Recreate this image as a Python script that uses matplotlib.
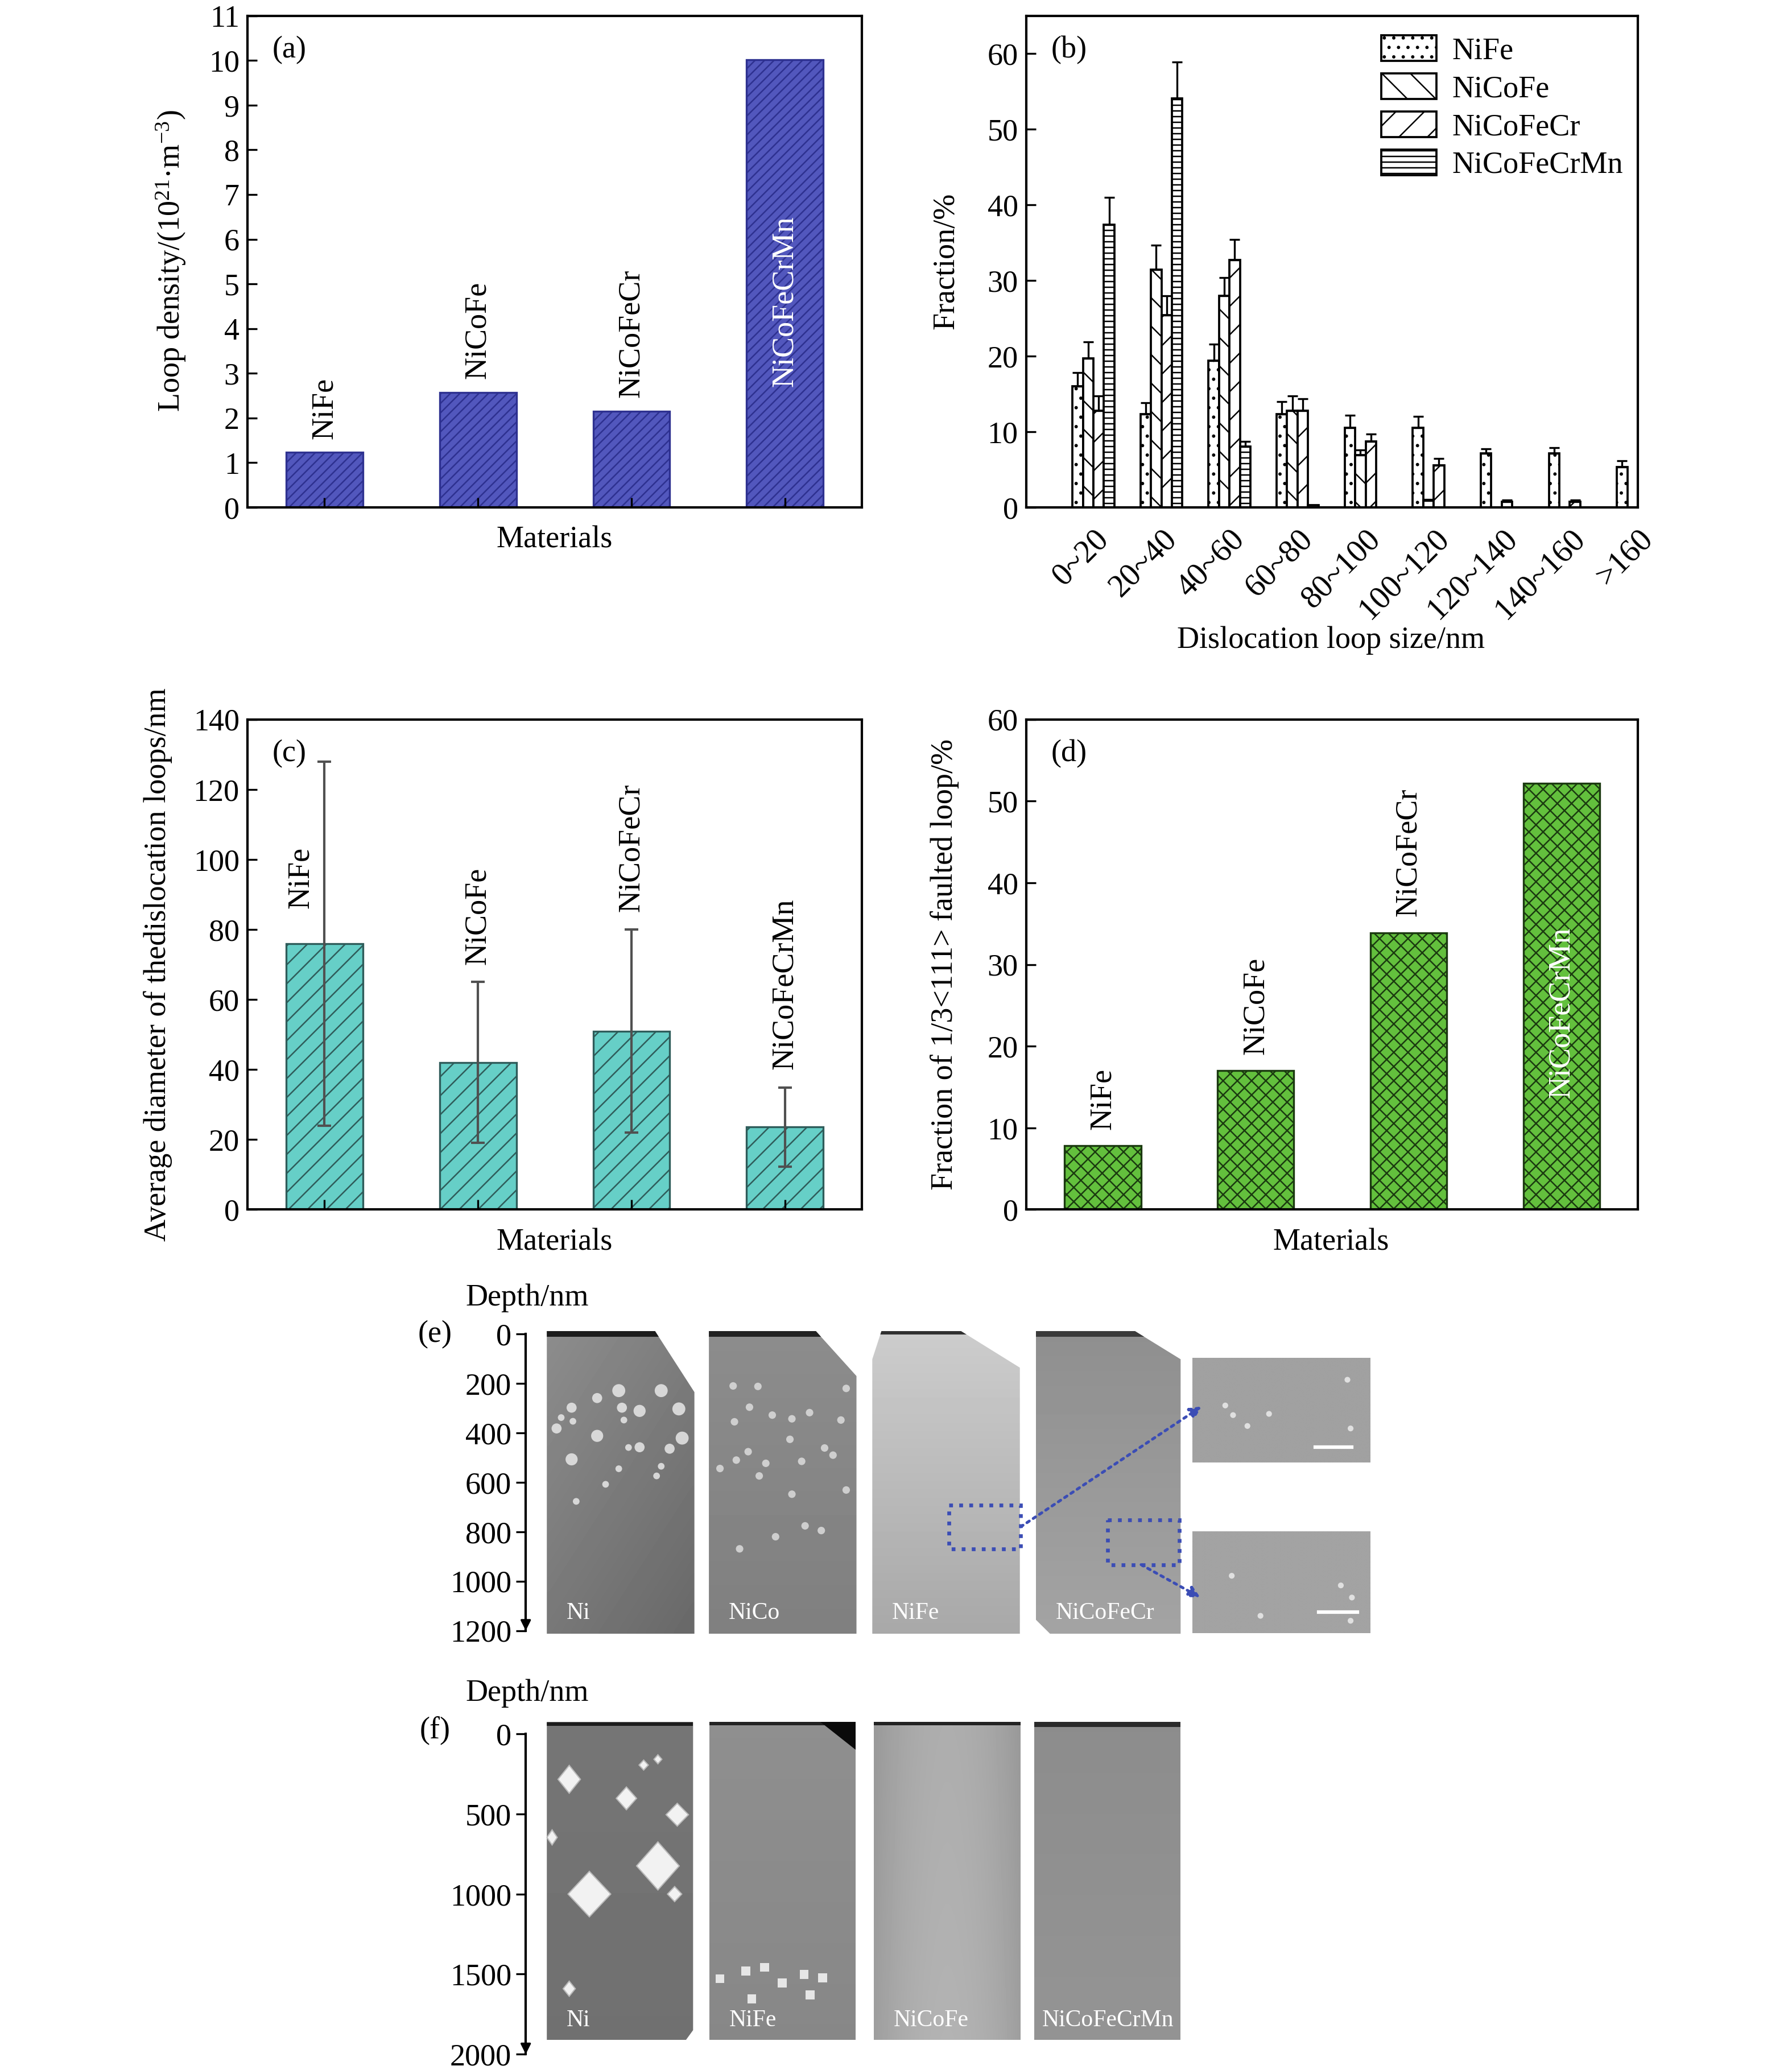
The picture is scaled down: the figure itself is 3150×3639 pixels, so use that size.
import numpy as np
import matplotlib
matplotlib.use('Agg')
import matplotlib.pyplot as plt
from matplotlib.patches import Polygon, Rectangle

plt.rcParams['font.family'] = ['Liberation Serif', 'DejaVu Serif']
plt.rcParams['mathtext.fontset'] = 'custom'
plt.rcParams['mathtext.rm'] = 'Liberation Serif'
plt.rcParams['mathtext.it'] = 'Liberation Serif:italic'
plt.rcParams['font.size'] = 13
plt.rcParams['hatch.linewidth'] = 0.6
plt.rcParams['axes.linewidth'] = 1.0

# ---------------- data ----------------
materials = ['NiFe', 'NiCoFe', 'NiCoFeCr', 'NiCoFeCrMn']
loop_density = [1.23, 2.57, 2.15, 10.02]

size_bins = ['0~20', '20~40', '40~60', '60~80', '80~100', '100~120',
             '120~140', '140~160', '>160']
frac_NiFe = [16.0, 12.3, 19.4, 12.3, 10.5, 10.5, 7.1, 7.1, 5.3]
err_NiFe = [1.8, 1.5, 2.2, 1.7, 1.7, 1.5, 0.6, 0.8, 0.85]
frac_NiCoFe = [19.7, 31.4, 28.0, 12.75, 6.9, 0.9, 0, 0, 0]
err_NiCoFe = [2.2, 3.3, 2.4, 2.0, 0.7, 0.15, 0, 0, 0]
frac_NiCoFeCr = [12.75, 25.4, 32.7, 12.75, 8.7, 5.55, 0.7, 0.7, 0]
err_NiCoFeCr = [2.0, 2.6, 2.7, 1.6, 1.0, 0.9, 0.3, 0.3, 0]
frac_NiCoFeCrMn = [37.4, 54.1, 8.0, 0.3, 0, 0, 0, 0, 0]
err_NiCoFeCrMn = [3.6, 4.8, 0.7, 0, 0, 0, 0, 0, 0]

avg_diameter = [76.0, 42.0, 51.0, 23.6]
avg_diameter_err = [52.0, 23.0, 29.0, 11.3]

faulted_fraction = [7.8, 17.0, 33.9, 52.2]

depth_ticks_e = [0, 200, 400, 600, 800, 1000, 1200]
depth_ticks_f = [0, 500, 1000, 1500, 2000]
names_e = ['Ni', 'NiCo', 'NiFe', 'NiCoFeCr']
names_f = ['Ni', 'NiFe', 'NiCoFe', 'NiCoFeCrMn']

# features (x unit, depth nm, size)
e_ni_loops_x = [70.6, 102.8, 54.2, 116.2, 34.8, 73.0, 86.4, 26.9, 35.8, 74.5, 23.4,
                54.2, 118.7, 109.2, 78.0, 86.4, 34.8, 102.8, 70.6, 99.3, 60.6, 38.3]
e_ni_loops_d = [229, 229, 259, 303, 298, 298, 311, 338, 353, 348, 382,
                412, 421, 464, 459, 458, 507, 535, 545, 574, 608, 677]
e_ni_loops_s = [30, 30, 18, 30, 18, 18, 26, 8, 8, 8, 18,
                26, 30, 18, 8, 18, 26, 8, 8, 8, 8, 8]
e_nico_loops_x = [157.4, 176.2, 243.2, 169.8, 187.1, 215.4, 202.0, 239.2, 158.4, 200.5,
                  226.8, 168.8, 233.2, 182.2, 209.4, 159.8, 147.4, 177.2, 243.2, 202.0,
                  189.6, 224.3, 162.3, 212.0]
e_nico_loops_d = [210, 212, 220, 296, 328, 318, 343, 348, 355, 426, 461, 476, 490, 523,
                  515, 510, 544, 574, 631, 648, 820, 795, 869, 776]
e_inset_dots_x = [530.9, 536.8, 564.1, 547.7, 626.0, 623.6, 535.8, 618.6, 627.0, 557.6, 626.0]
e_inset_dots_d = [289, 328, 323, 372, 382, 185, 978, 1017, 1066, 1140, 1160]
f_ni_voids_x = [48.3, 100.3, 33.0, 76.4, 115.0, 33.0, 113.0, 89.5, 100.3, 20.0]
f_ni_voids_d = [1000, 824, 283, 402, 504, 1591, 1000, 194, 158, 646]
f_ni_voids_hw = [16.2, 16.2, 8.5, 7.7, 8.5, 4.6, 5.4, 3.5, 3.0, 3.9]
f_ni_voids_hh = [142, 150, 87, 71, 71, 47, 47, 31, 28, 47]
f_nife_ppt_x = [167.0, 181.2, 211.2, 225.4, 194.6, 171.5, 215.8, 147.3]
f_nife_ppt_d = [1480, 1457, 1501, 1523, 1556, 1654, 1630, 1528]

# ---------------- figure ----------------
fig = plt.figure(figsize=(10.5, 12.13), dpi=300)

W, H = 1360.0, 1571.0
def rect(x0, y0, x1, y1):
    return [x0 / W, 1 - y1 / H, (x1 - x0) / W, (y1 - y0) / H]

ax_a = fig.add_axes(rect(188, 12, 654, 385))
ax_b = fig.add_axes(rect(779, 12, 1243, 385))
ax_c = fig.add_axes(rect(188, 546, 654, 918))
ax_d = fig.add_axes(rect(779, 546, 1243, 918))

xm = np.arange(1, len(materials) + 1)

def style_common(ax):
    ax.tick_params(axis='both', direction='in', length=4, width=0.8, labelsize=13)
    ax.set_xlim(0.5, 4.5)

# (a)
ax_a.bar(xm, loop_density, 0.5, facecolor='#5257BD', edgecolor='#2E3190',
         hatch='//////', lw=0.8)
style_common(ax_a)
ax_a.set_ylim(0, 11)
ax_a.set_yticks(range(0, 12))
ax_a.set_xticks(xm)
ax_a.set_xticklabels([])
for i, (xx, v) in enumerate(zip(xm, loop_density)):
    if i < 3:
        ax_a.text(xx, v + 0.3, materials[i], rotation=90, ha='center', va='bottom', fontsize=13)
    else:
        ax_a.text(xx, 2.7, materials[i], rotation=90, ha='center', va='bottom',
                  fontsize=13, color='white')
ax_a.text(0.04, 0.93, '(a)', transform=ax_a.transAxes, ha='left', va='center', fontsize=13)

# (b)
xb = np.arange(len(size_bins))
wb = 0.154
series = [(frac_NiFe, err_NiFe, '...', 'NiFe'),
          (frac_NiCoFe, err_NiCoFe, '\\\\', 'NiCoFe'),
          (frac_NiCoFeCr, err_NiCoFeCr, '//', 'NiCoFeCr'),
          (frac_NiCoFeCrMn, err_NiCoFeCrMn, '-----', 'NiCoFeCrMn')]
for k, (vals, errs, h, lab) in enumerate(series):
    pos = xb + (k - 1.5) * wb
    ax_b.bar(pos, vals, wb, facecolor='white', edgecolor='black', hatch=h, lw=0.9, label=lab)
    vals_a = np.array(vals); errs_a = np.array(errs)
    m = errs_a > 0
    ax_b.errorbar(pos[m], vals_a[m], yerr=[np.zeros(m.sum()), errs_a[m]], fmt='none',
                  ecolor='black', elinewidth=0.8, capsize=2.2, capthick=0.8)
ax_b.set_xlim(-0.984, 7.99)
ax_b.set_ylim(0, 65)
ax_b.set_yticks(range(0, 61, 10))
ax_b.tick_params(axis='y', direction='in', length=4, width=0.8, labelsize=13)
ax_b.set_xticks(xb)
ax_b.set_xticklabels(size_bins, rotation=45, ha='right', rotation_mode='anchor')
ax_b.tick_params(axis='x', length=0, pad=7, labelsize=13.5)
ax_b.text(0.04, 0.93, '(b)', transform=ax_b.transAxes, ha='left', va='center', fontsize=13)
ax_b.legend(loc='upper left', bbox_to_anchor=(0.56, 0.985), frameon=False,
            handlelength=1.8, handleheight=0.9, labelspacing=0.25, handletextpad=0.5,
            borderaxespad=0.0, fontsize=13)

# (c)
ax_c.bar(xm, avg_diameter, 0.5, facecolor='#66CFC7', edgecolor='#2F5C5A', hatch='///', lw=0.8)
ax_c.errorbar(xm, avg_diameter, yerr=avg_diameter_err, fmt='none', ecolor='#505050',
              elinewidth=1.0, capsize=2.8, capthick=1.0)
style_common(ax_c)
ax_c.set_ylim(0, 140)
ax_c.set_yticks(range(0, 141, 20))
ax_c.set_xticks(xm)
ax_c.set_xticklabels([])
c_label_y = [86, 70, 85, 40]
c_label_dx = [-0.155, 0, 0, 0]
for i, xx in enumerate(xm):
    ax_c.text(xx + c_label_dx[i], c_label_y[i], materials[i], rotation=90, ha='center',
              va='bottom', fontsize=13)
ax_c.text(0.04, 0.93, '(c)', transform=ax_c.transAxes, ha='left', va='center', fontsize=13)

# (d)
ax_d.bar(xm, faulted_fraction, 0.5, facecolor='#63C03D', edgecolor='#1B3A10', hatch='xxxx', lw=0.8)
style_common(ax_d)
ax_d.set_ylim(0, 60)
ax_d.set_yticks(range(0, 61, 10))
ax_d.set_xticks([])
for i, (xx, v) in enumerate(zip(xm, faulted_fraction)):
    if i < 3:
        ax_d.text(xx, v + 2.0, materials[i], rotation=90, ha='center', va='bottom', fontsize=13)
    else:
        ax_d.text(xx, 13.7, materials[i], rotation=90, ha='center', va='bottom',
                  fontsize=13, color='white')
ax_d.text(0.04, 0.93, '(d)', transform=ax_d.transAxes, ha='left', va='center', fontsize=13)

# axis labels
fig.text(130 / W, 1 - 198 / H, 'Loop density/(10$^{21}$·m$^{-3}$)', rotation=90,
         ha='center', va='center', fontsize=13)
fig.text(718 / W, 1 - 198 / H, 'Fraction/%', rotation=90, ha='center', va='center', fontsize=13)
fig.text(120 / W, 1 - 732 / H, 'Average diameter of thedislocation loops/nm', rotation=90,
         ha='center', va='center', fontsize=13)
fig.text(717 / W, 1 - 732 / H, 'Fraction of 1/3<111> faulted loop/%', rotation=90,
         ha='center', va='center', fontsize=13)
fig.text(421 / W, 1 - 410 / H, 'Materials', ha='center', va='center', fontsize=13)
fig.text(1010 / W, 1 - 486 / H, 'Dislocation loop size/nm', ha='center', va='center', fontsize=13)
fig.text(421 / W, 1 - 943 / H, 'Materials', ha='center', va='center', fontsize=13)
fig.text(1010 / W, 1 - 943 / H, 'Materials', ha='center', va='center', fontsize=13)

# ---------------- micrograph panels ----------------
def micrograph(ax, verts, x0, x1, d0, d1, top, bottom, lr=0.0, center=0.0, band=None):
    ny, nx = 80, 40
    col = np.linspace(top, bottom, ny)[:, None]
    row = np.linspace(-1, 1, nx)[None, :]
    arr = col + lr * row + center * (1 - row ** 2)
    im = ax.imshow(arr, cmap='gray', vmin=0, vmax=1, extent=(x0, x1, d1, d0),
                   aspect='auto', interpolation='bicubic', zorder=1)
    poly = Polygon(verts, closed=True, transform=ax.transData, facecolor='none',
                   edgecolor='none', zorder=0)
    ax.add_patch(poly)
    im.set_clip_path(poly)
    if band is not None:
        r = Rectangle((x0, d0), x1 - x0, band[0], facecolor=band[1], edgecolor='none', zorder=2)
        ax.add_patch(r)
        r.set_clip_path(poly)
    return poly

def depth_axis(ax, ticks, lo):
    for s in ['top', 'right', 'bottom']:
        ax.spines[s].set_visible(False)
    ax.spines['left'].set_bounds(0, ticks[-1])
    ax.set_xticks([])
    ax.set_yticks(ticks)
    ax.tick_params(axis='y', direction='out', length=4, width=0.8, labelsize=13, pad=2)
    ax.annotate('', xy=(0, ticks[-1]), xytext=(0, ticks[-1] - (ticks[-1] - lo) * 0.08),
                arrowprops=dict(arrowstyle='-|>', color='black', lw=0.8, mutation_scale=9,
                                shrinkA=0, shrinkB=0), annotation_clip=False)

# (e)
ax_e = fig.add_axes(rect(399, 1010, 1040, 1240))
ax_e.set_xlim(0, 641)
ax_e.set_ylim(1213, -13)
p_ni = micrograph(ax_e, [(16, -13), (98, -13), (128, 235), (128, 1213), (16, 1213)],
                  16, 128, -13, 1213, 0.52, 0.44, lr=-0.03, band=(24, '#1c1c1c'))
p_nico = micrograph(ax_e, [(139, -13), (220, -13), (251, 170), (251, 1213), (139, 1213)],
                    139, 251, -13, 1213, 0.55, 0.50, band=(24, '#222222'))
p_nife = micrograph(ax_e, [(263, 102), (270, -13), (330, -13), (375, 136), (375, 1213), (263, 1213)],
                    263, 375, -13, 1213, 0.80, 0.66, band=(14, '#303030'))
p_cr = micrograph(ax_e, [(387, -13), (462, -13), (497, 102), (497, 1213), (398, 1213), (387, 1155)],
                  387, 497, -13, 1213, 0.56, 0.64, band=(24, '#3a3a3a'))
p_in1 = micrograph(ax_e, [(506, 97), (641, 97), (641, 520), (506, 520)],
                   506, 641, 97, 520, 0.63, 0.63)
p_in2 = micrograph(ax_e, [(506, 798), (641, 798), (641, 1210), (506, 1210)],
                   506, 641, 798, 1210, 0.64, 0.64)
sc = ax_e.scatter(e_ni_loops_x, e_ni_loops_d, s=e_ni_loops_s, c='#e8e8e8', edgecolors='none',
                  alpha=0.85, zorder=3)
sc.set_clip_path(p_ni)
sc = ax_e.scatter(e_nico_loops_x, e_nico_loops_d, s=10, c='#dcdcdc', edgecolors='none',
                  alpha=0.85, zorder=3)
sc.set_clip_path(p_nico)
ax_e.scatter(e_inset_dots_x, e_inset_dots_d, s=6, c='#e0e0e0', edgecolors='none', zorder=3)
# scale bars
ax_e.plot([599, 627], [458, 458], color='white', lw=1.5, zorder=4)
ax_e.plot([602, 631], [1125, 1125], color='white', lw=1.5, zorder=4)
# dashed boxes and arrows
blue = '#3B4DB5'
ax_e.add_patch(Rectangle((321, 692), 54.6, 177, facecolor='none', edgecolor=blue,
                         lw=1.6, ls=':', zorder=5))
ax_e.add_patch(Rectangle((441.6, 751), 54.4, 182, facecolor='none', edgecolor=blue,
                         lw=1.6, ls=':', zorder=5))
ax_e.annotate('', xy=(513, 293), xytext=(375.6, 780),
              arrowprops=dict(arrowstyle='-|>', color=blue, lw=1.2, ls=':', mutation_scale=10,
                              shrinkA=0, shrinkB=0), zorder=5)
ax_e.annotate('', xy=(512, 1066), xytext=(467, 933),
              arrowprops=dict(arrowstyle='-|>', color=blue, lw=1.2, ls=':', mutation_scale=10,
                              shrinkA=0, shrinkB=0), zorder=5)
for name, x0 in zip(names_e, [16, 139, 263, 387]):
    ax_e.text(x0 + 15, 1130, name, color='white', fontsize=10, ha='left', va='center', zorder=6)
depth_axis(ax_e, depth_ticks_e, -13)
fig.text(400 / W, 1 - 985 / H, 'Depth/nm', ha='center', va='center', fontsize=13)
fig.text(330 / W, 1 - 1013 / H, '(e)', ha='center', va='center', fontsize=13)

# (f)
ax_f = fig.add_axes(rect(399, 1307, 896, 1559))
ax_f.set_xlim(0, 497)
ax_f.set_ylim(2000, -74)
p_fni = micrograph(ax_f, [(16, -74), (127, -74), (127, 1850), (121.5, 1912), (16, 1912)],
                   16, 127, -74, 1912, 0.46, 0.44, band=(24, '#1c1c1c'))
p_fnife = micrograph(ax_f, [(139.6, -74), (250.5, -74), (250.5, 1912), (139.6, 1912)],
                     139.6, 250.5, -74, 1912, 0.56, 0.53, band=(20, '#222222'))
ax_f.add_patch(Polygon([(223.5, -74), (250.5, -74), (250.5, 100)], closed=True,
                       facecolor='#0a0a0a', edgecolor='none', zorder=3))
p_fnicofe = micrograph(ax_f, [(264, -74), (375.6, -74), (375.6, 1912), (264, 1912)],
                       264, 375.6, -74, 1912, 0.60, 0.62, center=0.08, band=(20, '#222222'))
p_fmn = micrograph(ax_f, [(386, -74), (497, -74), (497, 1912), (386, 1912)],
                   386, 497, -74, 1912, 0.55, 0.58, band=(32, '#2a2a2a'))
for vx, vd, hw, hh in zip(f_ni_voids_x, f_ni_voids_d, f_ni_voids_hw, f_ni_voids_hh):
    ax_f.add_patch(Polygon([(vx - hw, vd), (vx, vd - hh), (vx + hw, vd), (vx, vd + hh)],
                           closed=True, facecolor='#f2f2f2', edgecolor='#bbbbbb', lw=0.5,
                           zorder=3))
ax_f.scatter(f_nife_ppt_x, f_nife_ppt_d, s=14, marker='s', c='#e6e6e6', edgecolors='none', zorder=3)
for name, x0 in zip(names_f, [16, 139.6, 264, 386]):
    ax_f.text(x0 + 6 if name == 'NiCoFeCrMn' else x0 + 15, 1787, name, color='white',
              fontsize=10, ha='left', va='center', zorder=6)
depth_axis(ax_f, depth_ticks_f, -74)
fig.text(400 / W, 1 - 1285 / H, 'Depth/nm', ha='center', va='center', fontsize=13)
fig.text(330 / W, 1 - 1313 / H, '(f)', ha='center', va='center', fontsize=13)

fig.savefig('out.png', dpi=300)
